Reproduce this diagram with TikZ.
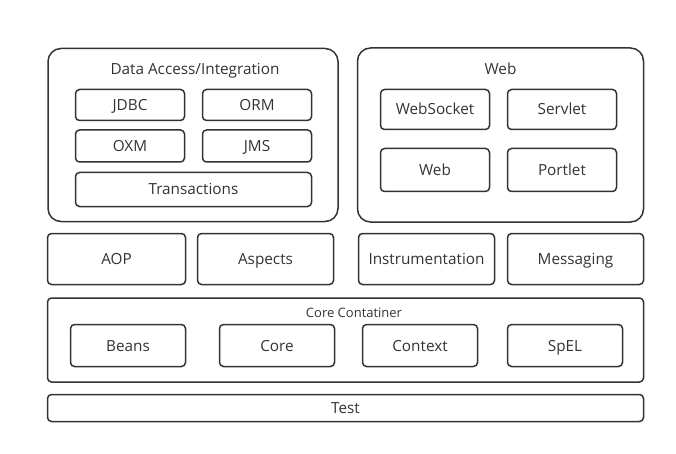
\documentclass[tikz,border=0pt]{standalone}
\usepackage{fontspec}
\setmainfont{Open Sans}
\definecolor{frame}{HTML}{333333}
\definecolor{ink}{HTML}{333333}

\begin{document}
\begin{tikzpicture}[
x=1pt, y=-1pt,
    G/.style = {rectangle, draw=frame, line width=1.5pt,% styles of group boxes
                rounded corners=13pt, inner sep=0pt, outer sep=0pt},
    X/.style = {rectangle, draw=frame, line width=1.5pt,% styles of module boxes
                rounded corners=4pt, inner sep=0pt, outer sep=0pt,
                text=ink, font=\fontsize{15.3}{18}\selectfont,
                text height=11pt, text depth=0pt},
    T/.style = {text=ink, inner sep=0pt, text height=11pt, text depth=0pt},
                        ]
\useasboundingbox (0,0) rectangle (676,454);
% top row: data access and web groups
\node (DA) [G, minimum width=290pt, minimum height=173pt] at (193,135) {};
\node (DA-t) [T, font=\fontsize{15.3}{18}\selectfont] at (195,69.5) {Data Access/Integration};
\node (JDBC) [X, minimum width=109pt, minimum height=31pt] at (130,105) {JDBC};
\node (ORM)  [X, minimum width=109pt, minimum height=31pt] at (257,105) {ORM};
\node (OXM)  [X, minimum width=109pt, minimum height=32pt] at (130,146) {OXM};
\node (JMS)  [X, minimum width=109pt, minimum height=32pt] at (257,146) {JMS};
\node (Trans) [X, minimum width=236pt, minimum height=34pt] at (193.5,189.5) {Transactions};
\node (WB) [G, minimum width=286pt, minimum height=174pt] at (500.5,135) {};
\node (WB-t) [T, font=\fontsize{15.3}{18}\selectfont] at (500.5,69.5) {Web};
\node (WebSocket) [X, minimum width=109pt, minimum height=40pt] at (435,109.5) {WebSocket};
\node (Servlet)   [X, minimum width=109pt, minimum height=40pt] at (562,109.5) {Servlet};
\node (Web)       [X, minimum width=109pt, minimum height=43pt] at (435,170) {Web};
\node (Portlet)   [X, minimum width=109pt, minimum height=43pt] at (562,170) {Portlet};
% middle row
\foreach \n/\x/\w in {AOP/116.5/138, Aspects/265.5/136, Instrumentation/426.5/136, Messaging/575.5/136}
    \node (\n) [X, minimum width=\w pt, minimum height=51pt] at (\x,259) {\n};
% core container
\node (CC) [G, rounded corners=4pt, minimum width=596pt, minimum height=84pt] at (345.5,340) {};
\node (CC-t) [T, font=\fontsize{13}{15}\selectfont, text height=9.3pt] at (354,313) {Core Contatiner};
\foreach \n/\x in {Beans/128, Core/277, Context/420, SpEL/565}
    \node (\n) [X, minimum width=115pt, minimum height=42pt] at (\x,345.5) {\n};
% test
\node (Test) [X, minimum width=596pt, minimum height=27pt] at (345.5,408) {Test};
\end{tikzpicture}
\end{document}
